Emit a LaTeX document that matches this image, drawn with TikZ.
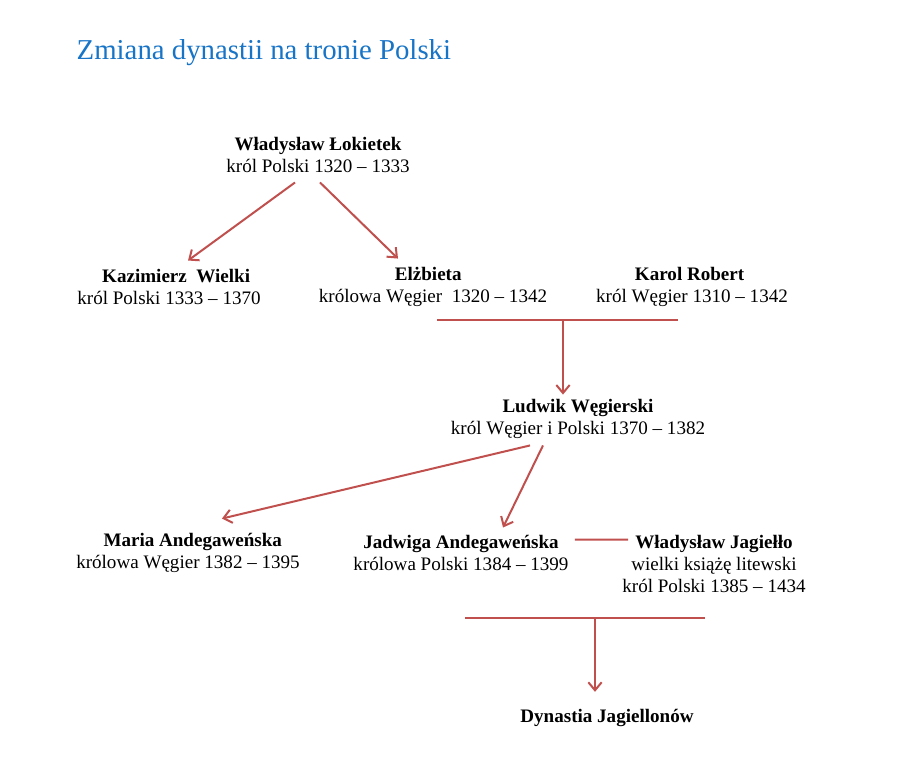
\documentclass[tikz,border=0pt]{standalone}
\usepackage{fontspec}
\setmainfont{Liberation Serif}
\usetikzlibrary{arrows.meta}
\definecolor{tytul}{RGB}{23,116,198}
\definecolor{linia}{RGB}{192,80,77}
\tikzstyle{os}=[align=center,inner sep=0pt,font=\fontsize{14.3}{16.5}\selectfont]
\tikzstyle{kr}=[draw=linia,line width=1.5pt]
\tikzstyle{st}=[kr,-{Straight Barb[length=6pt,width=10pt,line width=1.5pt]}]

\begin{document}
\begin{tikzpicture}[x=0.75pt,y=-0.75pt]
    \useasboundingbox (0,0) rectangle (902,768);
    \node[anchor=base west,text=tytul,font=\fontsize{21.6}{26}\selectfont] (tyt) at (72,59) {Zmiana dynastii na tronie Polski};
    \node[os] (lok) at (318,154.5) {\textbf{Władysław Łokietek}\\król Polski 1320 -- 1333};
    \node[os] (kaz) at (169,286.5) {\textbf{\ \ \ Kazimierz\ \ Wielki}\\król Polski 1333 -- 1370};
    \node[os] (elz) at (433,286.5) {\textbf{Elżbieta}\ \ \ \\królowa Węgier\ \ 1320 -- 1342};
    \node[os] (kar) at (692,286.5) {\textbf{Karol Robert}\ \ \\król Węgier 1310 -- 1342};
    \node[os] (lud) at (578,418.5) {\textbf{Ludwik Węgierski}\\król Węgier i Polski 1370 -- 1382};
    \node[os] (mar) at (188,552.5) {\textbf{\ \ Maria Andegaweńska}\\królowa Węgier\ 1382 -- 1395};
    \node[os] (jad) at (461,552.5) {\textbf{Jadwiga Andegaweńska}\\królowa Polski 1384 -- 1399};
    \node[os] (jag) at (714,563.5) {\textbf{Władysław Jagiełło}\\wielki książę litewski\\król Polski 1385 -- 1434};
    \node[os,anchor=base] (dyn) at (607,722) {\textbf{Dynastia Jagiellonów}};
    \coordinate (m1a) at (437,320);
    \coordinate (m1b) at (678,320);
    \coordinate (m1) at (563,320);
    \coordinate (m2a) at (465,618);
    \coordinate (m2b) at (705,618);
    \coordinate (m2) at (595,618);
    \draw[st] ([shift={(-23,10)}]lok.south) -- ([shift={(19,-8)}]kaz.north);
    \draw[st] ([shift={(2,10)}]lok.south) -- ([shift={(-35,-8)}]elz.north);
    \draw[kr] (m1a) -- (m1b);
    \draw[st,shorten >=3pt] (m1) -- (m1 |- lud.north);
    \draw[st] ([shift={(-48,7)}]lud.south) -- ([shift={(34,-14)}]mar.north);
    \draw[st] ([shift={(-35,7)}]lud.south) -- ([shift={(42,-7)}]jad.north);
    \draw[kr] ([shift={(6,5)}]jad.north east) -- ([shift={(6,5)}]jag.north west);
    \draw[kr] (m2a) -- (m2b);
    \draw[st,shorten >=12.5pt] (m2) -- (m2 |- dyn.north);
\end{tikzpicture}
\end{document}
